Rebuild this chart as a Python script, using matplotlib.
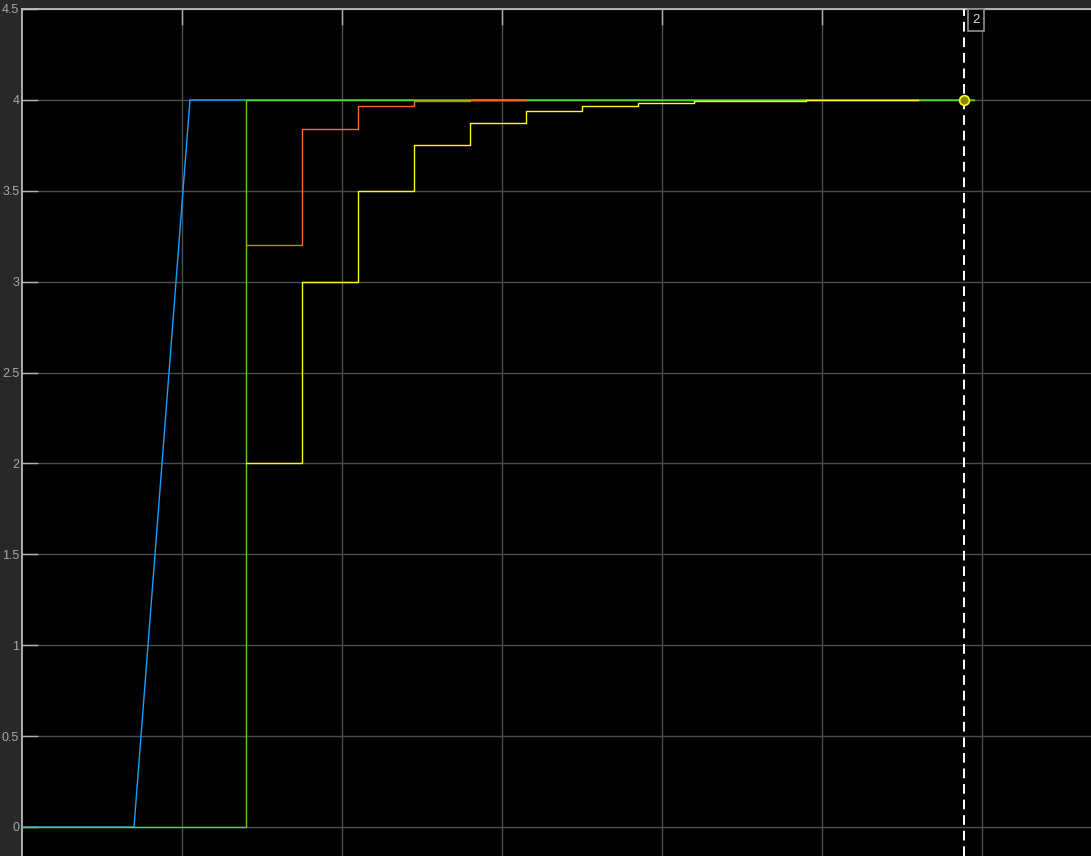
import matplotlib
matplotlib.use("Agg")
from matplotlib import pyplot as plt

# simulink scope colours
YELLOW = (1.0, 1.0, 0.0667)
BLUE = (0.0745, 0.6235, 1.0)
RED = (1.0, 0.4118, 0.1608)
GREEN = (0.3922, 0.8314, 0.0745)

# blue: ramp input
blue_t = [0, 0.7, 1.05, 5.95]
blue_y = [0, 0, 4, 4]

# green: step input
green_t = [0, 1.4, 1.4, 5.95]
green_y = [0, 0, 4, 4]

# red: fast discrete response (held values)
red_t = [1.4, 1.75, 2.1, 2.45, 2.8, 3.15]
red_y = [3.2, 3.84, 3.968, 3.994, 3.999, 3.999]

# yellow: slow discrete response (held values)
yellow_t = [1.4, 1.75, 2.1, 2.45, 2.8, 3.15, 3.5, 3.85, 4.2, 4.55, 4.9, 5.25, 5.6]
yellow_y = [2, 3, 3.5, 3.75, 3.875, 3.9375, 3.969, 3.984, 3.992, 3.996, 3.998, 3.999, 3.999]

cursor_x = 5.8875
cursor_y = 4.0
cursor_label = "2"

yticks = [0, 0.5, 1, 1.5, 2, 2.5, 3, 3.5, 4, 4.5]
xticks = [1, 2, 3, 4, 5, 6]

W, H = 1091, 856
fig = plt.figure(figsize=(W / 100, H / 100), dpi=100, facecolor="#282828")
ax = fig.add_axes([22 / W, 0, 1 - 22 / W, (H - 9) / H])
ax.set_facecolor("black")

ax.plot(blue_t, blue_y, color=BLUE, lw=1.0, zorder=3)
ax.plot(green_t, green_y, color=GREEN, lw=1.0, zorder=3.5)
ax.step(red_t, red_y, where="post", color=RED, lw=1.0, zorder=4)
ax.step(yellow_t, yellow_y, where="post", color=YELLOW, lw=1.0, zorder=5)

# data cursor
ax.axvline(cursor_x, color="white", lw=1.4, dashes=(5, 3), zorder=7)
ax.plot([cursor_x], [cursor_y], "o", ms=7, mfc="#8a8a00", mec=YELLOW, mew=1.2, zorder=8)
ax.annotate(cursor_label, xy=(cursor_x, 4.5), xytext=(6, -8), textcoords="offset points",
            ha="left", va="center", color="#e0e0e0", fontsize=9.5,
            fontfamily="Liberation Sans",
            bbox=dict(boxstyle="square,pad=0.35", fc="black", ec="#909090", lw=1.2),
            zorder=9, annotation_clip=False)

ax.set_xlim(0, (W - 22) / 160)
ax.set_ylim(-29 / 181.75, 4.5)
ax.set_xticks(xticks)
ax.set_yticks(yticks)
ax.set_yticklabels([("%g" % v) for v in yticks], fontfamily="Liberation Sans")
ax.grid(True, color="#4d4d4d", lw=1.0)
ax.set_axisbelow(True)

ax.tick_params(axis="y", direction="in", length=11.5, width=1, color="#b0b0b0",
               labelcolor="#a8a8a8", labelsize=9, pad=2, right=False)
ax.tick_params(axis="x", direction="in", length=11.5, width=1, color="#b0b0b0",
               top=True, bottom=False, labelbottom=False)

for side in ["left", "top"]:
    ax.spines[side].set_color("#c8c8c8")
    ax.spines[side].set_linewidth(1.2)
for side in ["right", "bottom"]:
    ax.spines[side].set_visible(False)

fig.savefig("out.png", dpi=100, facecolor=fig.get_facecolor())
